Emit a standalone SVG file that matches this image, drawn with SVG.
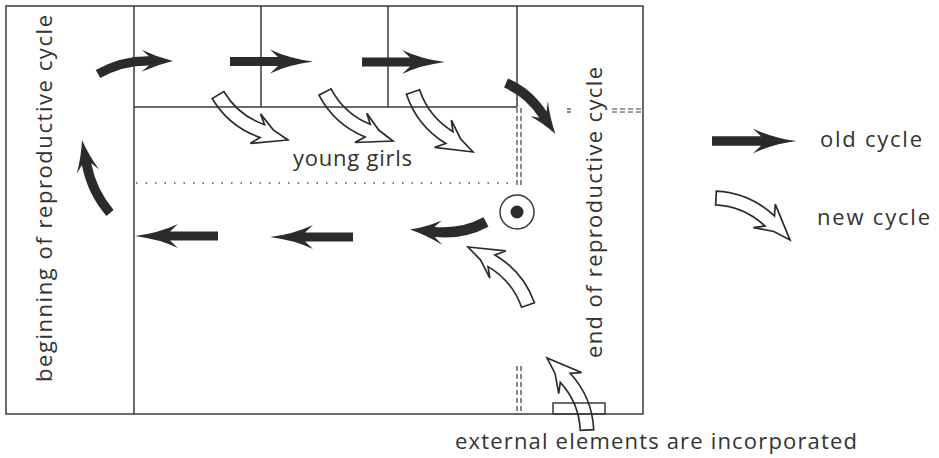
<svg xmlns="http://www.w3.org/2000/svg" width="939" height="458" viewBox="0 0 939 458">
<style>
.ln{stroke:#3a3a3a;stroke-width:1.5;fill:none}
.dd{stroke:#3a3a3a;stroke-width:1.2;fill:none;stroke-dasharray:5 3}
.dot{stroke:#555;stroke-width:1.5;fill:none;stroke-dasharray:1.5 8}
.old{fill:#2b2b2b}
.new{fill:none;stroke:#2b2b2b;stroke-width:1.6;stroke-linejoin:miter}
.t{font-family:"Open Sans","DejaVu Sans",sans-serif;font-size:22px;fill:#333}
</style>
<defs>
<path id="wArrow" d="M0,-6.5 A86.5,86.5 0 0 1 55.6,13.74 L55.71,2.73 L71.34,35.44 L55.8,28.3 L36.41,25.71 L47.25,23.7 A73.5,73.5 0 0 0 0,6.5 Z"/>
<path id="bCurve" d="M0,-5 A115,115 0 0 1 57.5,10.41 L54.07,0.35 Q64.8,15.78 77.52,27.74 Q60.8,22.7 42.07,21.13 L52.5,19.07 A105,105 0 0 0 0,5 Z"/>
<path id="bStraight" d="M0,-4.5 L48,-4.5 L40,-12 Q59,-3 83,0 Q59,3 40,12 L48,4.5 L0,4.5 Z"/>
</defs>
<rect width="939" height="458" fill="#fff"/>
<g id="frame">
<rect class="ln" x="6" y="6" width="637" height="408"/>
<line class="ln" x1="134" y1="6" x2="134" y2="414"/>
<line class="ln" x1="134" y1="107" x2="517" y2="107"/>
<line class="ln" x1="261" y1="6" x2="261" y2="107"/>
<line class="ln" x1="388" y1="6" x2="388" y2="107"/>
<line class="ln" x1="517" y1="6" x2="517" y2="107"/>
<line class="dd" x1="517" y1="108" x2="517" y2="186"/>
<line class="dd" x1="521" y1="108" x2="521" y2="186"/>
<line class="dot" x1="136" y1="183" x2="514" y2="183"/>
<line class="dd" x1="517" y1="366" x2="517" y2="414"/>
<line class="dd" x1="521" y1="366" x2="521" y2="414"/>
<line class="dd" x1="567" y1="109" x2="571" y2="109"/>
<line class="dd" x1="567" y1="112" x2="571" y2="112"/>
<line class="dd" x1="612" y1="109" x2="643" y2="109"/>
<line class="dd" x1="612" y1="112" x2="643" y2="112"/>
<rect class="ln" x="553" y="403" width="52" height="11"/>
</g>
<g id="source">
<circle class="ln" cx="517" cy="212" r="17"/>
<circle class="old" cx="517" cy="212" r="6.5"/>
</g>
<g id="old-cycle-arrows">
<use href="#bCurve" class="old" transform="translate(98,74) rotate(-29.52) scale(0.924)"/>
<use href="#bStraight" class="old" transform="translate(230,61.5)"/>
<use href="#bStraight" class="old" transform="translate(362,62)"/>
<use href="#bCurve" class="old" transform="translate(506,83) rotate(22.97) scale(0.843,1)"/>
<use href="#bCurve" class="old" transform="translate(110,213) rotate(-130.67) scale(0.95)"/>
<use href="#bStraight" class="old" transform="translate(218,236) rotate(180)"/>
<use href="#bStraight" class="old" transform="translate(353,237) rotate(180)"/>
<use href="#bCurve" class="old" transform="translate(486,222) rotate(151.86) scale(0.91,1.05)"/>
</g>
<g id="new-cycle-arrows">
<use href="#wArrow" class="new" transform="translate(218,95) rotate(59.16) scale(1.044,-1.044)"/>
<use href="#wArrow" class="new" transform="translate(325,92) rotate(62.2) scale(1.052,-1.052)"/>
<use href="#wArrow" class="new" transform="translate(413,92) rotate(71.42) scale(1.065,-1.065)"/>
<use href="#wArrow" class="new" transform="translate(528,305) rotate(250.45) scale(1.048,-1.048)"/>
<use href="#wArrow" class="new" transform="translate(587,430) rotate(267.37) scale(1.034,-1.034)"/>
</g>
<g id="labels">
<text class="t" transform="translate(52,382) rotate(-90)" textLength="367" lengthAdjust="spacing">beginning of reproductive cycle</text>
<text class="t" transform="translate(602,358) rotate(-90)" textLength="291" lengthAdjust="spacing">end of reproductive cycle</text>
<text class="t" x="293" y="166" font-size="21" textLength="119" lengthAdjust="spacing">young girls</text>
<text class="t" x="455" y="449" textLength="402" lengthAdjust="spacing">external elements are incorporated</text>
</g>
<g id="legend">
<use href="#bStraight" class="old" transform="translate(712,141) scale(1.02,1.05)"/>
<text class="t" x="820" y="147" textLength="102" lengthAdjust="spacing">old cycle</text>
<use href="#wArrow" class="new" transform="translate(716,198) rotate(3.16) scale(1.068)"/>
<text class="t" x="817" y="225" textLength="113" lengthAdjust="spacing">new cycle</text>
</g>
</svg>
